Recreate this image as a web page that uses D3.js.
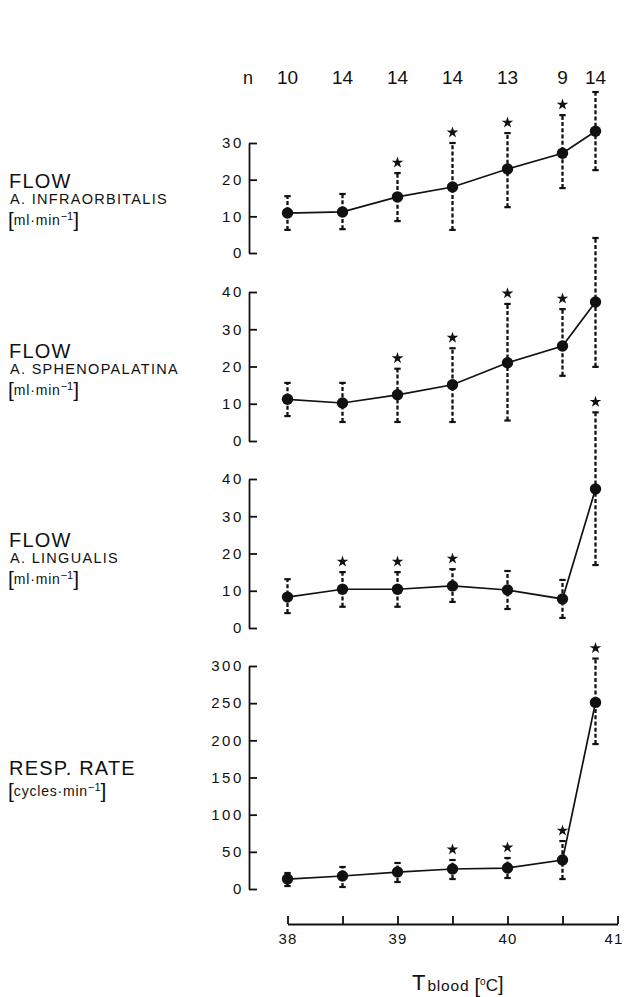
<!DOCTYPE html>
<html>
<head>
<meta charset="utf-8">
<script src="https://cdn.jsdelivr.net/npm/d3@7"></script>
<style>
  html, body { margin: 0; padding: 0; background: #fff; }
  svg { display: block; }
  text { font-family: "Liberation Sans", Arial, Helvetica, sans-serif; fill: #111; }
</style>
</head>
<body>
<div id="chart"></div>
<script>
// ---------- data ----------
const temps = [38, 38.5, 39, 39.5, 40, 40.5, 40.8];
const nCounts = [10, 14, 14, 14, 13, 9, 14];
const xTicks = [38, 38.5, 39, 39.5, 40, 40.5, 41];

const infraMean  = [10.9, 11.2, 15.3, 18.0, 22.9, 27.2, 33.2];
const infraUpper = [15.5, 16.1, 21.8, 30.0, 32.7, 37.6, 43.9];
const infraLower = [6.3, 6.5, 8.7, 6.3, 12.5, 17.7, 22.6];
const infraStar  = [0, 0, 1, 1, 1, 1, 0];
const infraTicks = [0, 10, 20, 30];

const sphenoMean  = [11.2, 10.2, 12.4, 15.1, 21.0, 25.5, 37.3];
const sphenoUpper = [15.6, 15.6, 19.4, 24.9, 36.8, 35.4, 54.5];
const sphenoLower = [6.7, 5.1, 5.1, 5.1, 5.5, 17.5, 19.9];
const sphenoStar  = [0, 0, 1, 1, 1, 1, 0];
const sphenoTicks = [0, 10, 20, 30, 40];

const lingMean  = [8.3, 10.4, 10.4, 11.3, 10.2, 7.8, 37.3];
const lingUpper = [13.1, 15.0, 15.0, 15.8, 15.3, 12.9, 57.9];
const lingLower = [4.0, 5.7, 5.7, 7.0, 5.1, 2.7, 16.9];
const lingStar  = [0, 1, 1, 1, 0, 0, 1];
const lingTicks = [0, 10, 20, 30, 40];

const respMean  = [13.4, 17.5, 22.8, 26.9, 28.2, 39.0, 251];
const respUpper = [21.5, 29.6, 35.0, 39.0, 41.7, 64.5, 310];
const respLower = [4.0, 2.7, 9.4, 13.4, 14.8, 13.4, 195];
const respStar  = [0, 0, 0, 1, 1, 1, 1];
const respTicks = [0, 50, 100, 150, 200, 250, 300];

// ---------- layout ----------
const W = 624, H = 997;
const svg = d3.select("#chart").append("svg").attr("width", W).attr("height", H);

const x = d3.scaleLinear().domain([38, 41]).range([287.5, 617.5]);
const axisX = 249;

const panels = [
  { mean: infraMean, upper: infraUpper, lower: infraLower, star: infraStar, ticks: infraTicks,
    y: d3.scaleLinear().domain([0, 30]).range([253, 143]),
    title: "FLOW", sub: "A. INFRAORBITALIS", unit: "ml·min", base: 188 },
  { mean: sphenoMean, upper: sphenoUpper, lower: sphenoLower, star: sphenoStar, ticks: sphenoTicks,
    y: d3.scaleLinear().domain([0, 40]).range([441, 292]),
    title: "FLOW", sub: "A. SPHENOPALATINA", unit: "ml·min", base: 358 },
  { mean: lingMean, upper: lingUpper, lower: lingLower, star: lingStar, ticks: lingTicks,
    y: d3.scaleLinear().domain([0, 40]).range([628, 479]),
    title: "FLOW", sub: "A. LINGUALIS", unit: "ml·min", base: 547 },
  { mean: respMean, upper: respUpper, lower: respLower, star: respStar, ticks: respTicks,
    y: d3.scaleLinear().domain([0, 300]).range([889, 666]),
    title: "RESP. RATE", sub: null, unit: "cycles·min", base: 775 }
];

const starPath = d3.symbol().type(d3.symbolStar).size(42)();

panels.forEach(p => {
  const g = svg.append("g");
  // y axis
  const ax = g.append("g")
    .attr("transform", `translate(${axisX},0)`)
    .call(d3.axisLeft(p.y).tickValues(p.ticks).tickSizeInner(-8).tickSizeOuter(0).tickPadding(5));
  ax.selectAll("path,line").attr("stroke", "#111").attr("stroke-width", 1.8);
  ax.selectAll("text").attr("font-size", 15).attr("letter-spacing", "2.6px")
    .attr("fill", "#111").attr("font-family", '"Liberation Sans", Arial, sans-serif');

  const data = temps.map((t, i) => ({ t, m: p.mean[i], u: p.upper[i], l: p.lower[i], s: p.star[i] }));

  // error bars
  g.selectAll(".eb").data(data).join("line")
    .attr("x1", d => x(d.t)).attr("x2", d => x(d.t))
    .attr("y1", d => p.y(d.l)).attr("y2", d => p.y(d.u))
    .attr("stroke", "#111").attr("stroke-width", 2.3).attr("stroke-dasharray", "4,2.2");
  ["u", "l"].forEach(k => {
    g.selectAll(".cap" + k).data(data).join("line")
      .attr("x1", d => x(d.t) - 3.2).attr("x2", d => x(d.t) + 3.2)
      .attr("y1", d => p.y(d[k])).attr("y2", d => p.y(d[k]))
      .attr("stroke", "#111").attr("stroke-width", 2.2);
  });

  // line
  g.append("path").datum(data)
    .attr("d", d3.line().x(d => x(d.t)).y(d => p.y(d.m)))
    .attr("fill", "none").attr("stroke", "#111").attr("stroke-width", 1.7);

  // markers
  g.selectAll(".pt").data(data).join("circle")
    .attr("cx", d => x(d.t)).attr("cy", d => p.y(d.m)).attr("r", 5.7).attr("fill", "#111");

  // stars
  g.selectAll(".st").data(data.filter(d => d.s)).join("path")
    .attr("d", starPath)
    .attr("transform", d => `translate(${x(d.t)},${p.y(d.u) - 10.5})`)
    .attr("fill", "#111");

  // left labels
  g.append("text").attr("x", 9).attr("y", p.base).attr("font-size", 20)
    .attr("letter-spacing", "1.2px").text(p.title);
  let ub = p.base + 21;
  if (p.sub) {
    g.append("text").attr("x", 10).attr("y", p.base + 15.5).attr("font-size", 14.5)
      .attr("letter-spacing", "1.3px").text(p.sub);
    ub = p.base + 37;
  }
  const ut = g.append("text").attr("x", 8).attr("y", ub).attr("font-size", 14);
  ut.append("tspan").attr("font-size", 21).attr("font-weight", 200).attr("dy", 2).text("[");
  ut.append("tspan").attr("dy", -2).attr("letter-spacing", "0.8px").text(p.unit);
  ut.append("tspan").attr("font-size", 11).attr("dy", -5).text("−1");
  ut.append("tspan").attr("font-size", 21).attr("font-weight", 200).attr("dy", 7).text("]");
});

// n row
svg.append("text").attr("x", 248).attr("y", 84).attr("font-size", 18)
  .attr("text-anchor", "middle").text("n");
svg.selectAll(".nlab").data(temps).join("text")
  .attr("x", d => x(d)).attr("y", 84).attr("font-size", 19)
  .attr("text-anchor", "middle").text((d, i) => nCounts[i]);

// x axis
const xa = svg.append("g").attr("transform", "translate(0,924)")
  .call(d3.axisBottom(x).tickValues(xTicks).tickSizeInner(-8).tickSizeOuter(0).tickPadding(9)
    .tickFormat(d => Number.isInteger(d) ? d : ""));
xa.selectAll("path,line").attr("stroke", "#111").attr("stroke-width", 1.8);
xa.selectAll("text").attr("font-size", 15).attr("letter-spacing", "1.2px")
  .attr("fill", "#111").attr("font-family", '"Liberation Sans", Arial, sans-serif');
// keep last label inside the page edge
xa.selectAll(".tick").filter(d => d === 41).select("text")
  .attr("text-anchor", "end").attr("x", 623 - x(41));

// x title
const xt = svg.append("text").attr("x", 412).attr("y", 990).attr("font-size", 22);
xt.append("tspan").text("T");
xt.append("tspan").attr("font-size", 15.5).attr("dy", 1).attr("dx", 2).attr("letter-spacing", "0.8px").text("blood ");
xt.append("tspan").attr("font-size", 20).attr("font-weight", 200).attr("dy", 2).text("[");
xt.append("tspan").attr("font-size", 10).attr("dy", -8).text("o");
xt.append("tspan").attr("font-size", 17).attr("dy", 6).text("C");
xt.append("tspan").attr("font-size", 20).attr("font-weight", 200).attr("dy", 0).text("]");
</script>
</body>
</html>
